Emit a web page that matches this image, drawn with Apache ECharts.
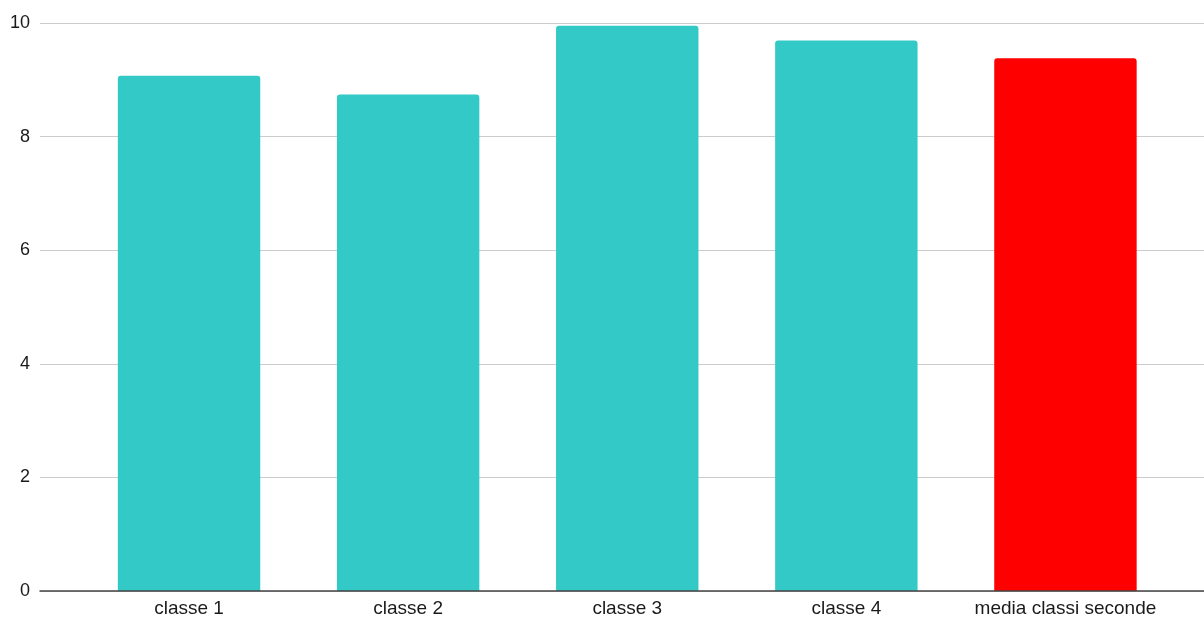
<!DOCTYPE html>
<html>
<head>
<meta charset="utf-8">
<script src="https://cdn.jsdelivr.net/npm/echarts@6/dist/echarts.min.js"></script>
<style>html,body{margin:0;padding:0;background:#fff}#c{width:1204px;height:619px}</style>
</head>
<body>
<div id="c"></div>
<script>
var categories = ["classe 1", "classe 2", "classe 3", "classe 4", "media classi seconde"];
var values = [9.07, 8.74, 9.95, 9.69, 9.38];
var barColors = ["#33c9c7", "#33c9c7", "#33c9c7", "#33c9c7", "#ff0000"];
var yTicks = [0, 2, 4, 6, 8, 10];

var chart = echarts.init(document.getElementById('c'), null, {renderer: 'canvas'});
var font = '"Liberation Sans", Arial, sans-serif';
chart.setOption({
  animation: false,
  grid: [
    {left: 40, right: 0, top: 23, bottom: 28, containLabel: false},
    {left: 79.5, right: 29, top: 23, bottom: 28, containLabel: false}
  ],
  xAxis: [
    {gridIndex: 0, type: 'category', data: [''], axisLine: {show: true, lineStyle: {color: '#444', width: 1.5}}, axisTick: {show: false}, axisLabel: {show: false}, z: 10},
    {gridIndex: 1, type: 'category', data: categories, axisLine: {show: false}, axisTick: {show: false},
     axisLabel: {color: '#1a1a1a', fontSize: 19, fontFamily: font, margin: 8, interval: 0}}
  ],
  yAxis: [
    {gridIndex: 0, type: 'value', min: yTicks[0], max: yTicks[yTicks.length - 1], interval: 2,
     axisLine: {show: false}, axisTick: {show: false},
     axisLabel: {color: '#1a1a1a', fontSize: 18, fontFamily: font, margin: 10},
     splitLine: {lineStyle: {color: '#cccccc', width: 1}}},
    {gridIndex: 1, type: 'value', min: yTicks[0], max: yTicks[yTicks.length - 1], interval: 2, show: false, splitLine: {show: false}}
  ],
  series: [{
    type: 'bar', xAxisIndex: 1, yAxisIndex: 1,
    barWidth: '65%',
    data: values.map(function (v, i) { return {value: v, itemStyle: {color: barColors[i]}}; }),
    itemStyle: {borderRadius: [3, 3, 0, 0]}
  }]
});
</script>
</body>
</html>
